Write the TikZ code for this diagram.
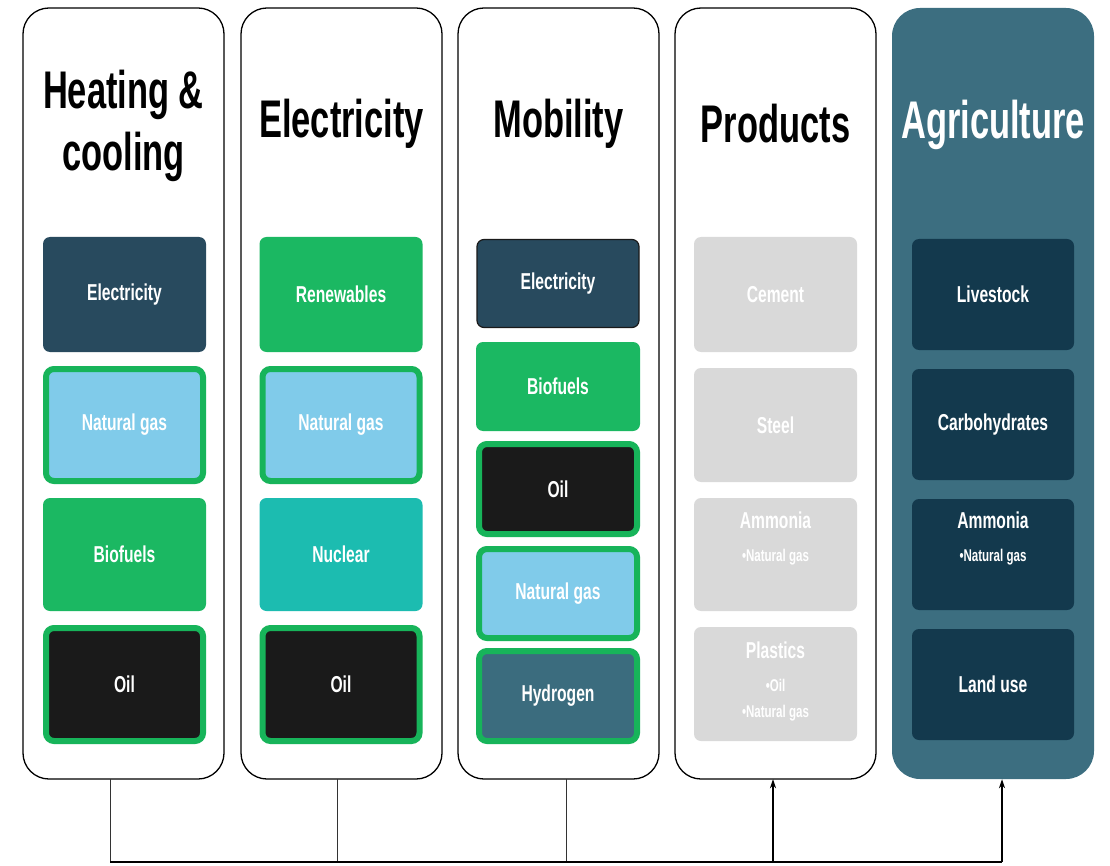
\documentclass[tikz,border=0pt]{standalone}
\usepackage{fontspec}
\setmainfont{Liberation Sans}[FakeStretch=0.68]
\newfontfamily\titlefont{Liberation Sans}[FakeStretch=0.65]
\usetikzlibrary{arrows.meta}
\definecolor{slate}{HTML}{284A5E}
\definecolor{lblue}{HTML}{80CBEA}
\definecolor{fgreen}{HTML}{1BB862}
\definecolor{bgreen}{HTML}{17B45A}
\definecolor{teal2}{HTML}{1CBCB0}
\definecolor{coal}{HTML}{1A1A1A}
\definecolor{hydro}{HTML}{3B6C7E}
\definecolor{greyb}{HTML}{D9D9D9}
\definecolor{agcol}{HTML}{3C6E80}
\definecolor{agbox}{HTML}{13394D}
\begin{document}
\begin{tikzpicture}[x=1pt,y=-1pt,
  column/.style={draw=black, line width=1.3pt, rounded corners=26pt, fill=white},
  title/.style={font=\titlefont\bfseries\fontsize{53}{62}\selectfont, align=center, text=black},
  box/.style={rounded corners=7pt, minimum width=163pt, text=white, align=center,
    font=\bfseries\fontsize{23}{27}\selectfont, inner sep=0pt},
  gbox/.style={box, draw=bgreen, line width=6pt, rounded corners=8pt, minimum width=157pt},
  sub/.style={font=\bfseries\fontsize{17}{21}\selectfont},
  link/.style={line width=0.6pt, draw=black!80},
  uplink/.style={line width=1.3pt, -{Stealth[length=9pt,width=6pt]}}
]
\useasboundingbox (0,0) rectangle (1110,866);
% columns
\path[column] (23,8) rectangle (224,779);
\path[column] (241,8) rectangle (442,779);
\path[column] (458,8) rectangle (659,779);
\path[column] (675,8) rectangle (876,779);
\path[fill=agcol, rounded corners=28pt] (892,8) rectangle (1094,779);
\node[inner sep=0pt, minimum width=201pt, minimum height=771pt] (col1) at (123.5,393.5) {};
\node[inner sep=0pt, minimum width=201pt, minimum height=771pt] (col2) at (341.5,393.5) {};
\node[inner sep=0pt, minimum width=201pt, minimum height=771pt] (col3) at (558.5,393.5) {};
\node[inner sep=0pt, minimum width=201pt, minimum height=771pt] (col4) at (775.5,393.5) {};
\node[inner sep=0pt, minimum width=202pt, minimum height=771pt] (col5) at (993,393.5) {};
% titles
\node[title] (t1) at (123.5,126) {Heating \&\\cooling};
\node[title] (t2) at (341.5,124) {Electricity};
\node[title] (t3) at (558.5,124) {Mobility};
\node[title] (t4) at (775.5,124) {Products};
\node[title, text=white] (t5) at (993,125) {Agriculture};
% column 1
\node[box, fill=slate, minimum height=115pt] (h1) at (124.5,294.5) {Electricity};
\node[gbox, fill=lblue, minimum height=112pt] (h2) at (124.5,425) {Natural gas};
\node[box, fill=fgreen, minimum height=113pt] (h3) at (124.5,554.5) {Biofuels};
\node[gbox, fill=coal, minimum height=113pt] (h4) at (124.5,684.5) {Oil};
% column 2
\node[box, fill=fgreen, minimum height=115pt] (e1) at (341,294.5) {Renewables};
\node[gbox, fill=lblue, minimum height=112pt] (e2) at (341,425) {Natural gas};
\node[box, fill=teal2, minimum height=113pt] (e3) at (341,554.5) {Nuclear};
\node[gbox, fill=coal, minimum height=113pt] (e4) at (341,684.5) {Oil};
% column 3
\node[box, fill=slate, draw=coal, line width=1.2pt, minimum width=162pt, minimum height=88pt] (m1) at (558,283.5) {Electricity};
\node[box, fill=fgreen, minimum width=164pt, minimum height=89pt] (m2) at (558,386.5) {Biofuels};
\node[gbox, fill=coal, minimum width=158pt, minimum height=90pt] (m3) at (558,489) {Oil};
\node[gbox, fill=lblue, minimum width=158pt, minimum height=89pt] (m4) at (558,593.5) {Natural gas};
\node[gbox, fill=hydro, minimum width=158pt, minimum height=90pt] (m5) at (558,696) {Hydrogen};
% column 4
\node[box, fill=greyb, minimum height=115pt] (p1) at (775.5,294.5) {Cement};
\node[box, fill=greyb, minimum height=114pt] (p2) at (775.5,425) {Steel};
\node[box, fill=greyb, minimum height=113pt] (p3) at (775.5,554.5) {};
\node[text=white, font=\bfseries\fontsize{23}{27}\selectfont] (p3t) at (775.5,520) {Ammonia};
\node[text=white, sub] (p3s) at (775.5,557) {•Natural gas};
\node[box, fill=greyb, minimum height=114pt] (p4) at (775.5,684) {};
\node[text=white, font=\bfseries\fontsize{23}{27}\selectfont] (p4t) at (775.5,650) {Plastics};
\node[text=white, sub, align=center] (p4s) at (775.5,700) {•Oil\\[5pt]•Natural gas};
% column 5
\node[box, fill=agbox, minimum width=162pt, minimum height=111pt] (a1) at (993,294.5) {Livestock};
\node[box, fill=agbox, minimum width=162pt, minimum height=111pt] (a2) at (993,424.5) {Carbohydrates};
\node[box, fill=agbox, minimum width=162pt, minimum height=111pt] (a3) at (993,554.5) {};
\node[text=white, font=\bfseries\fontsize{23}{27}\selectfont] (a3t) at (993,520) {Ammonia};
\node[text=white, sub] (a3s) at (993,557) {•Natural gas};
\node[box, fill=agbox, minimum width=162pt, minimum height=111pt] (a4) at (993,684.5) {Land use};
% connectors
\coordinate (b1) at (110,862);
\coordinate (b2) at (337,862);
\coordinate (b3) at (566,862);
\coordinate (b4) at (773,862);
\coordinate (b5) at (1002,862);
\draw[link] (b1 |- col1.south) -- (b1);
\draw[link] (b2 |- col2.south) -- (b2);
\draw[link] (b3 |- col3.south) -- (b3);
\draw[uplink] (b4) -- (b4 |- col4.south);
\draw[uplink] (b5) -- (b5 |- col5.south);
\draw[line width=2.5pt] (b1) -- (b5);
\end{tikzpicture}
\end{document}
